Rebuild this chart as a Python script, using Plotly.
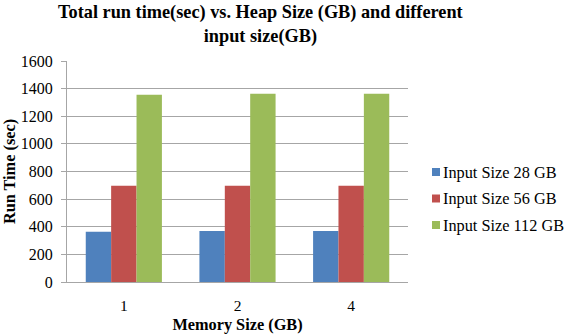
import plotly.graph_objects as go

categories = ["1", "2", "4"]
series_names = ["Input Size 28 GB", "Input Size 56 GB", "Input Size 112 GB"]
input_28 = [364, 369, 369]
input_56 = [697, 697, 697]
input_112 = [1355, 1362, 1362]
colors = ["#4F81BD", "#C0504D", "#9BBB59"]
y_ticks = [0, 200, 400, 600, 800, 1000, 1200, 1400, 1600]
title_text = "<b>Total run time(sec) vs. Heap Size (GB) and different<br>input size(GB)</b>"

FONT = "Liberation Serif, Times New Roman, serif"

# plot-area geometry (pixels) used to place the hand-made legend
L, R, T, B = 67, 408, 61, 282
def px_x(p):
    return (p - L) / (R - L)
def px_y(p):
    return (B - p) / (B - T)

fig = go.Figure()
for name, vals, col in zip(series_names, [input_28, input_56, input_112], colors):
    fig.add_trace(go.Bar(x=categories, y=vals, name=name, showlegend=False,
                         marker=dict(color=col, line=dict(width=0))))

# legend: small squares + labels
legend_rows = [172, 198.5, 225]
for name, col, ry in zip(series_names, colors, legend_rows):
    fig.add_shape(type="rect", xref="paper", yref="paper",
                  x0=px_x(432), x1=px_x(440), y0=px_y(ry + 4), y1=px_y(ry - 4),
                  fillcolor=col, line=dict(width=0))
    fig.add_annotation(text=name, xref="paper", yref="paper",
                       x=px_x(441.5), y=px_y(ry), xanchor="left", yanchor="middle",
                       showarrow=False, font=dict(family=FONT, size=16.3, color="black"))

fig.add_annotation(
    text=title_text, xref="paper", yref="paper",
    x=0.566, y=1.278, xanchor="center", yanchor="top",
    showarrow=False, align="center",
    font=dict(family=FONT, size=18.3, color="black"),
)

fig.update_layout(
    width=567, height=336,
    margin=dict(l=L, r=567 - R, t=T, b=336 - B, autoexpand=False),
    paper_bgcolor="white", plot_bgcolor="white",
    barmode="group", bargap=0.33, bargroupgap=0,
    font=dict(family=FONT, size=15, color="black"),
    showlegend=False,
    xaxis=dict(
        type="category",
        showline=True, linecolor="#A6A6A6", linewidth=1,
        ticks="", showgrid=False, ticklabelstandoff=9,
        tickfont=dict(family=FONT, size=15.5, color="black"),
        title=dict(text="<b>Memory Size (GB)</b>", font=dict(family=FONT, size=16.3, color="black"), standoff=5),
    ),
    yaxis=dict(
        range=[0, 1600], tickvals=y_ticks,
        showline=True, linecolor="#A6A6A6", linewidth=1,
        ticks="outside", ticklen=5, tickcolor="#A6A6A6",
        showgrid=True, gridcolor="#A6A6A6", gridwidth=1,
        zeroline=False, ticklabelstandoff=5,
        tickfont=dict(family=FONT, size=16, color="black"),
        title=dict(text="<b>Run Time (sec)</b>", font=dict(family=FONT, size=16.3, color="black"), standoff=1),
    ),
)

fig.write_html("out.html", config={"displayModeBar": False},
               post_script="document.body.style.margin='0';")
